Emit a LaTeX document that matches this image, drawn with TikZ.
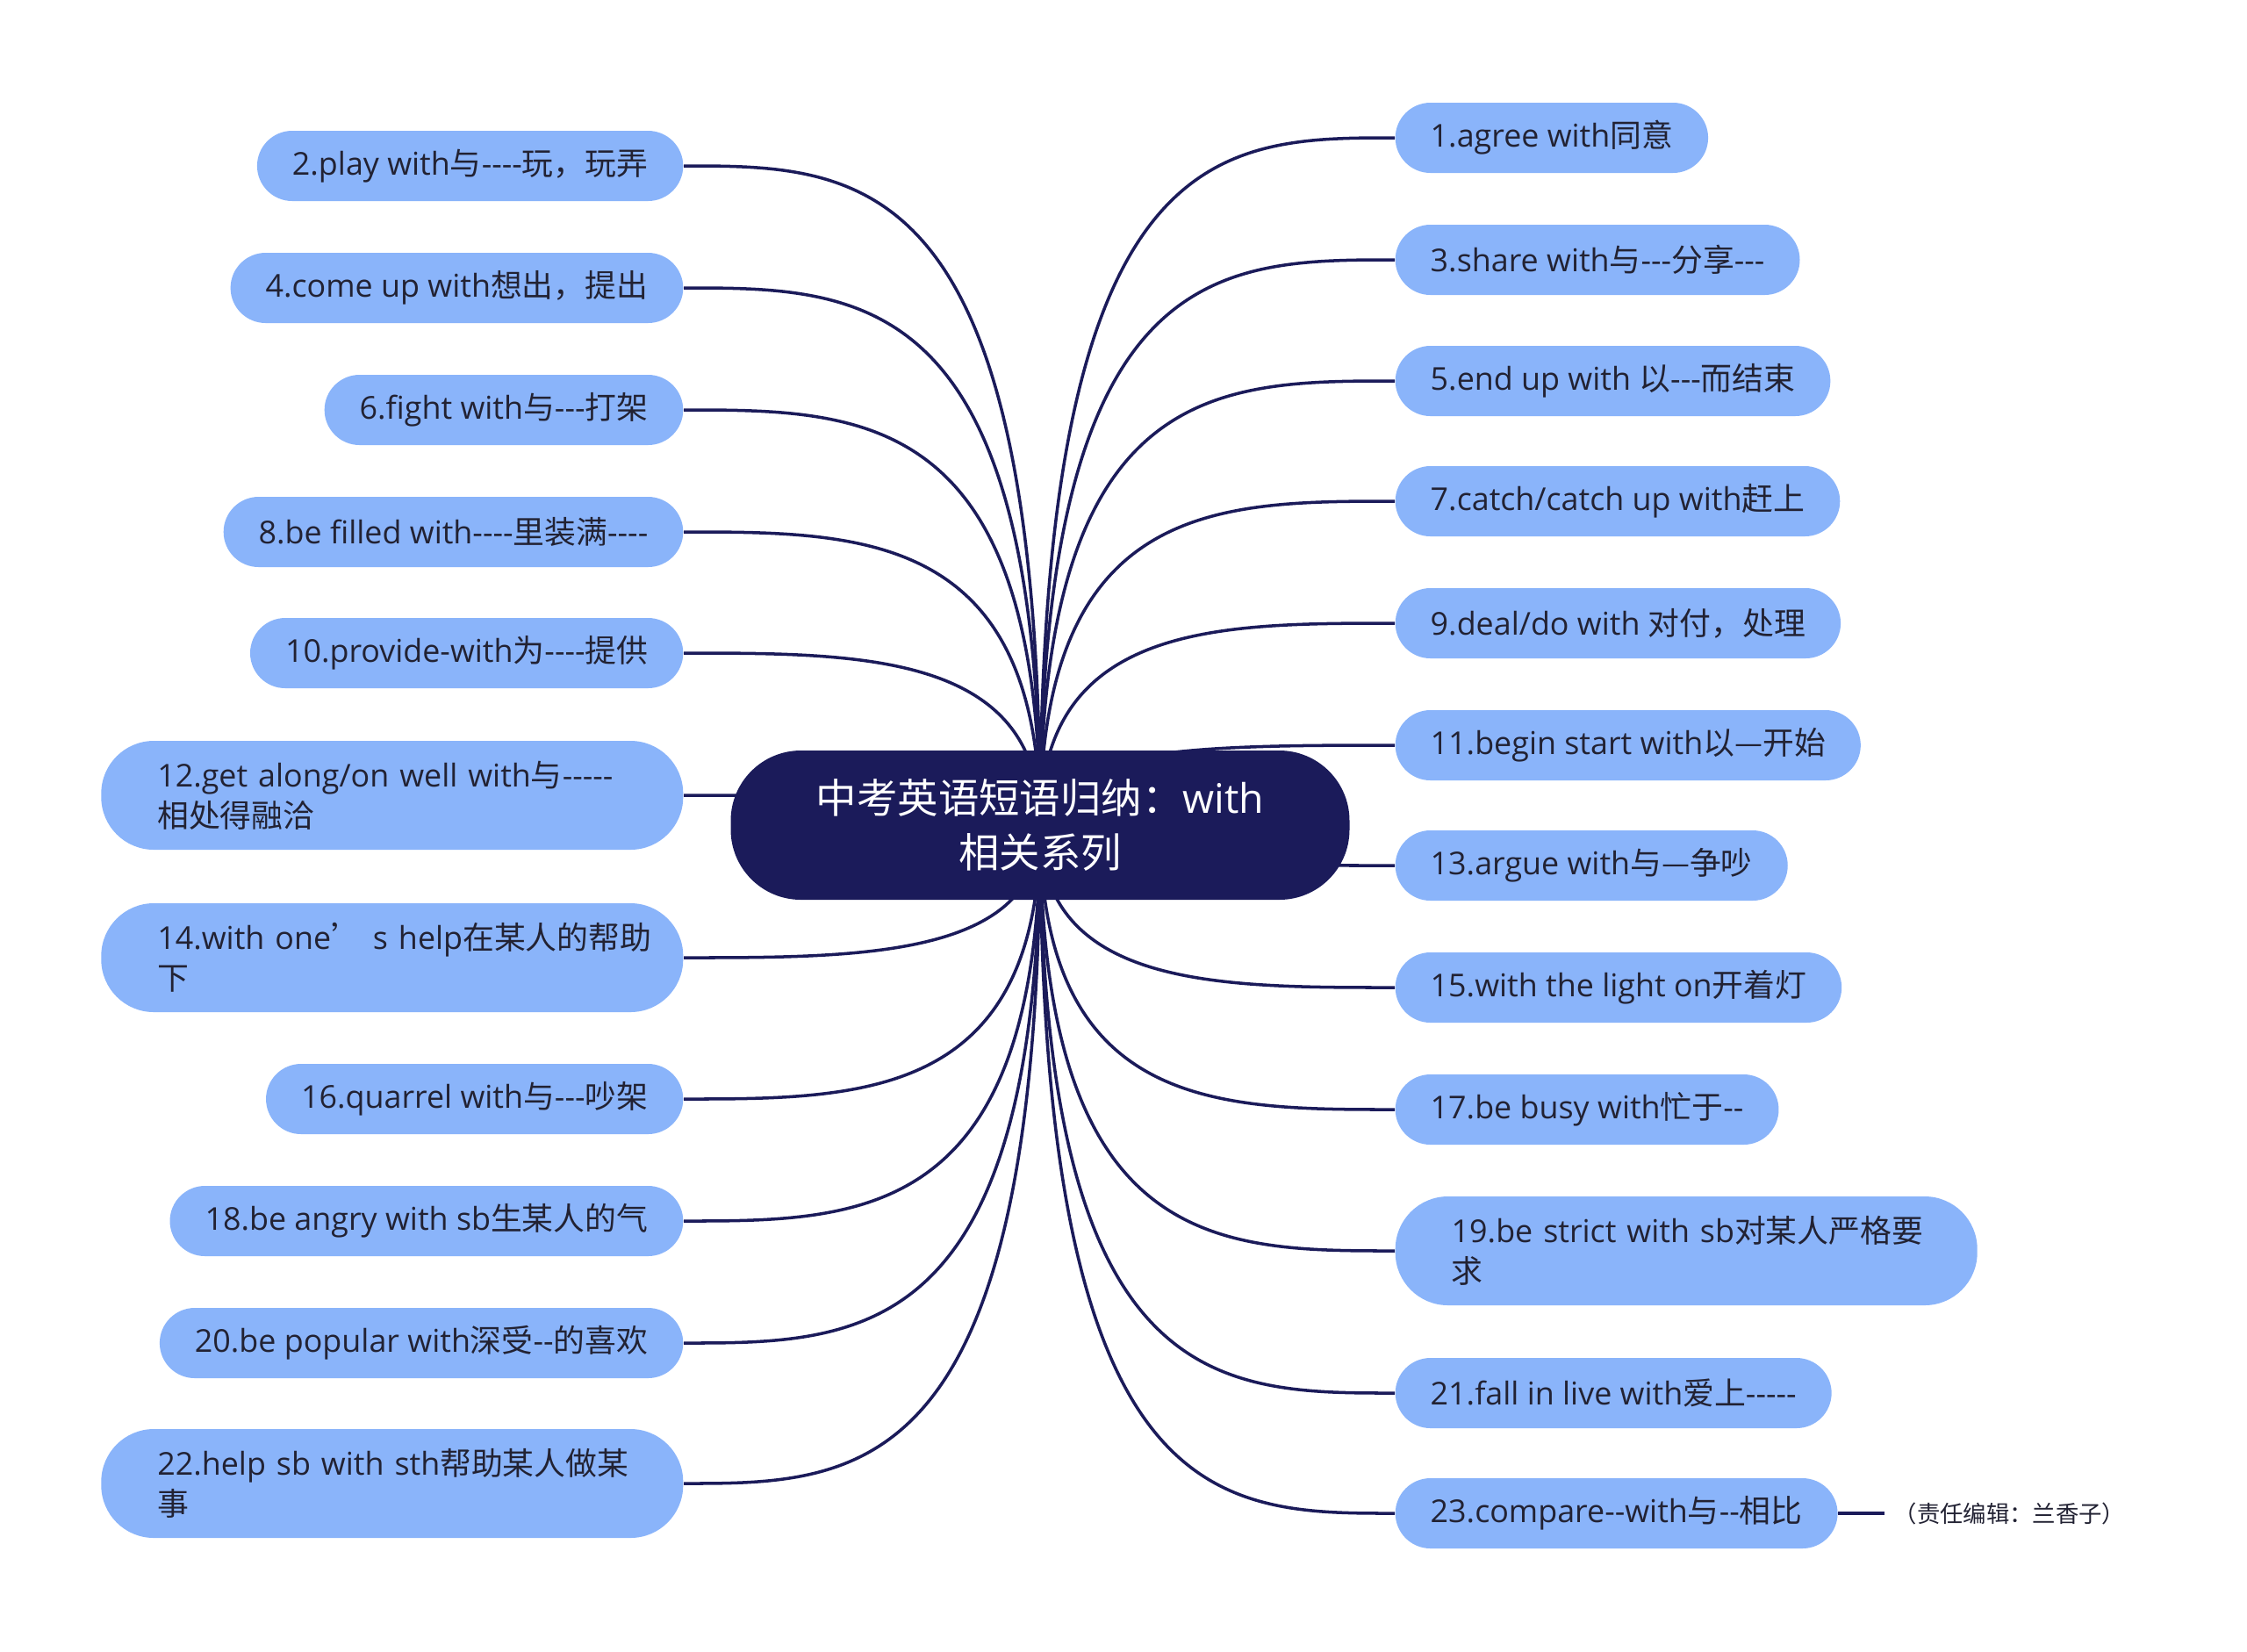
\documentclass[tikz,border=0pt]{standalone}
\usepackage{fontspec}
\newfontfamily\latinfont{Open Sans}
\newfontfamily\cjkfont{Noto Sans CJK SC}
\usetikzlibrary{calc,backgrounds}
% switch to the CJK font for Chinese characters
\XeTeXinterchartokenstate=1
\newXeTeXintercharclass\cjkclass
\newcount\cjkcode
\newcommand\setclassrange[3]{%
  \cjkcode=#1\relax
  \loop
    \XeTeXcharclass\cjkcode=#3\relax
  \ifnum\cjkcode<#2\relax
    \advance\cjkcode by 1\relax
  \repeat}
\setclassrange{"21}{"7E}{0}
\setclassrange{"3000}{"303F}{\cjkclass}
\setclassrange{"4E00}{"9FFF}{\cjkclass}
\setclassrange{"FF00}{"FFEF}{\cjkclass}
\XeTeXcharclass"2014=\cjkclass
\XeTeXcharclass"2019=\cjkclass
\XeTeXinterchartoks 0 \cjkclass = {\begingroup\cjkfont}
\XeTeXinterchartoks 4095 \cjkclass = {\begingroup\cjkfont}
\XeTeXinterchartoks \cjkclass 0 = {\endgroup}
\XeTeXinterchartoks \cjkclass 4095 = {\endgroup}
\definecolor{rootblue}{RGB}{27,27,90}
\definecolor{leafblue}{RGB}{138,180,250}
\definecolor{leaftext}{RGB}{34,34,51}
\begin{document}
\begin{tikzpicture}[
    root/.style={fill=rootblue, text=white, rounded corners=0.8cm,
      minimum width=7.05cm, minimum height=1.7cm, align=center,
      font=\latinfont\fontsize{13.2}{17.6}\selectfont},
    leaf/.style={fill=leafblue, text=leaftext, rounded corners=0.4cm,
      minimum height=0.8cm, inner xsep=0.4cm, inner ysep=0pt,
      font=\latinfont\fontsize{10.2}{13}\selectfont},
    leaftwo/.style={leaf, rounded corners=0.6cm, minimum height=1.24cm,
      text width=5.35cm, align=left, inner xsep=0.64cm},
    note/.style={text=leaftext, inner xsep=0.1cm,
      font=\latinfont\fontsize{7.5}{9}\selectfont},
    link/.style={draw=rootblue, line width=1pt}]
  \useasboundingbox (0,0) rectangle (25.6,-18.81);
  \node[root] (root) at (11.85,-9.40) {中考英语短语归纳：with\\相关系列};
  % left side
  \node[leaf, anchor=east] (l2) at (7.79,-1.89) {2.play with与----玩，玩弄};
  \node[leaf, anchor=east] (l4) at (7.79,-3.28) {4.come up with想出，提出};
  \node[leaf, anchor=east] (l6) at (7.79,-4.67) {6.fight with与---打架};
  \node[leaf, anchor=east] (l8) at (7.79,-6.06) {8.be filled with----里装满----};
  \node[leaf, anchor=east] (l10) at (7.79,-7.44) {10.provide-with为----提供};
  \node[leaftwo, anchor=east] (l12) at (7.79,-9.06) {\mbox{12.get along/on well with与-----}\\相处得融洽};
  \node[leaftwo, anchor=east] (l14) at (7.79,-10.91) {\mbox{14.with one’ s help在某人的帮助}\\下};
  \node[leaf, anchor=east] (l16) at (7.79,-12.52) {16.quarrel with与---吵架};
  \node[leaf, anchor=east] (l18) at (7.79,-13.91) {18.be angry with sb生某人的气};
  \node[leaf, anchor=east] (l20) at (7.79,-15.30) {20.be popular with深受--的喜欢};
  \node[leaftwo, anchor=east] (l22) at (7.79,-16.90) {\mbox{22.help sb with sth帮助某人做某}\\事};
  % right side
  \node[leaf, anchor=west] (r1) at (15.89,-1.57) {1.agree with同意};
  \node[leaf, anchor=west] (r3) at (15.89,-2.96) {3.share with与---分享---};
  \node[leaf, anchor=west] (r5) at (15.89,-4.34) {5.end up with 以---而结束};
  \node[leaf, anchor=west] (r7) at (15.89,-5.71) {7.catch/catch up with赶上};
  \node[leaf, anchor=west] (r9) at (15.89,-7.10) {9.deal/do with 对付，处理};
  \node[leaf, anchor=west] (r11) at (15.89,-8.49) {11.begin start with以—开始};
  \node[leaf, anchor=west] (r13) at (15.89,-9.86) {13.argue with与—争吵};
  \node[leaf, anchor=west] (r15) at (15.89,-11.25) {15.with the light on开着灯};
  \node[leaf, anchor=west] (r17) at (15.89,-12.64) {17.be busy with忙于--};
  \node[leaftwo, anchor=west] (r19) at (15.89,-14.25) {\mbox{19.be strict with sb对某人严格要}\\求};
  \node[leaf, anchor=west] (r21) at (15.89,-15.87) {21.fall in live with爱上-----};
  \node[leaf, anchor=west] (r23) at (15.89,-17.24) {23.compare--with与--相比};
  \node[note, anchor=west] (note) at (21.47,-17.24) {（责任编辑：兰香子）};
  \draw[link] (r23.east) -- (note.west);
  \begin{pgfonlayer}{background}
    \fill[white] (0,0) rectangle (25.6,-18.81);
    \foreach \n in {l2,l4,l6,l8,l10,l12,l14,l16,l18,l20,l22}
      \draw[link] (root.center) .. controls (root.center |- \n.east)
        and ($(root.center |- \n.east)!.5!(\n.east)$) .. (\n.east);
    \foreach \n in {r1,r3,r5,r7,r9,r11,r13,r15,r17,r19,r21,r23}
      \draw[link] (root.center) .. controls (root.center |- \n.west)
        and ($(root.center |- \n.west)!.5!(\n.west)$) .. (\n.west);
  \end{pgfonlayer}
\end{tikzpicture}
\end{document}
